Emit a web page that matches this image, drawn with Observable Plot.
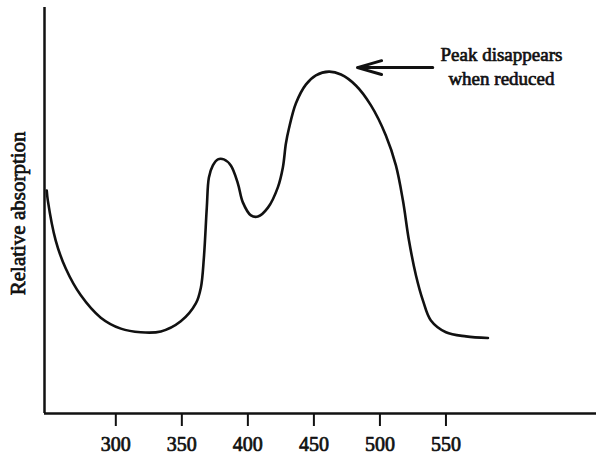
<!DOCTYPE html>
<html>
<head>
<meta charset="utf-8">
<script src="https://cdn.jsdelivr.net/npm/d3@7"></script>
<script src="https://cdn.jsdelivr.net/npm/@observablehq/plot@0.6"></script>
<style>
  html, body { margin: 0; padding: 0; background: #fff; }
  #chart svg { display: block; }
</style>
</head>
<body>
<div id="chart"></div>
<script>
// Wavelength (nm) and relative absorption (arbitrary units, 0–1)
const wavelength = [247.7, 248.5, 254.5, 262.1, 273.5, 288.6, 303.8, 318.9, 334.1, 349.2,
  360.6, 364.4, 366.7, 368.9, 370.5, 373.5, 377.3, 381.8, 387.1, 392.4,
  396.2, 402.3, 407.6, 415.2, 422.7, 426.5, 428.8, 431.1, 436.4, 443.9,
  451.5, 461.4, 470.5, 481.8, 493.2, 504.5, 512.1, 517.4, 522.0, 527.3,
  532.6, 538.6, 550.0, 565.2, 581.8];
const absorption = [0.549, 0.525, 0.426, 0.357, 0.291, 0.236, 0.209, 0.200, 0.202, 0.227,
  0.271, 0.310, 0.384, 0.507, 0.581, 0.611, 0.626, 0.626, 0.611, 0.567,
  0.520, 0.488, 0.485, 0.507, 0.557, 0.606, 0.665, 0.702, 0.764, 0.810,
  0.833, 0.842, 0.835, 0.808, 0.759, 0.685, 0.611, 0.525, 0.426, 0.340,
  0.278, 0.229, 0.200, 0.190, 0.186];
const tickValues = [300, 350, 400, 450, 500, 550];
const yLabel = "Relative absorption";
const noteText = ["Peak disappears", "when reduced"];
const noteX = [592];
const noteY = [0.81];
const arrowFrom = [540];
const arrowTo = [483];
const arrowY = [0.852];
const xDomain = [246, 664];
const yDomain = [0, 1];

const curve = wavelength.map((w, i) => ({w, a: absorption[i]}));
const font = "'Liberation Serif', 'Times New Roman', serif";

const chart = Plot.plot({
  width: 596,
  height: 460,
  marginLeft: 44,
  marginRight: 0,
  marginTop: 7,
  marginBottom: 47,
  style: {background: "#fff", fontFamily: font, color: "#111", overflow: "visible"},
  x: {domain: xDomain, axis: null},
  y: {domain: yDomain, axis: null},
  marks: [
    Plot.axisX({ticks: tickValues, tickSize: 13, tickPadding: 10, fontSize: 20,
      strokeWidth: 2, label: null, fill: "#111", stroke: "#111",
      textStroke: "#111", textStrokeWidth: 0.7}),
    Plot.ruleY([yDomain[0]], {stroke: "#111", strokeWidth: 2.5}),
    Plot.ruleX([xDomain[0]], {stroke: "#111", strokeWidth: 2.5}),
    Plot.line(curve, {x: "w", y: "a", curve: "catmull-rom", stroke: "#111", strokeWidth: 2.6}),
    Plot.arrow([0], {x1: () => arrowFrom[0], x2: () => arrowTo[0], y1: () => arrowY[0], y2: () => arrowY[0],
      stroke: "#111", strokeWidth: 3, headLength: 15, headAngle: 32}),
    Plot.text([noteText.join("\n")], {x: () => noteX[0], y: () => noteY[0], text: d => d,
      lineAnchor: "bottom", lineHeight: 1.25, fontSize: 19, fill: "#111", textAnchor: "middle",
      stroke: "#111", strokeWidth: 0.7}),
    Plot.text([yLabel], {frameAnchor: "left", y: () => 0.493, text: d => d, rotate: -90,
      dx: -26, fontSize: 21, fill: "#111", textAnchor: "middle", lineAnchor: "middle",
      stroke: "#111", strokeWidth: 0.7})
  ]
});
document.getElementById("chart").appendChild(chart);
</script>
</body>
</html>
